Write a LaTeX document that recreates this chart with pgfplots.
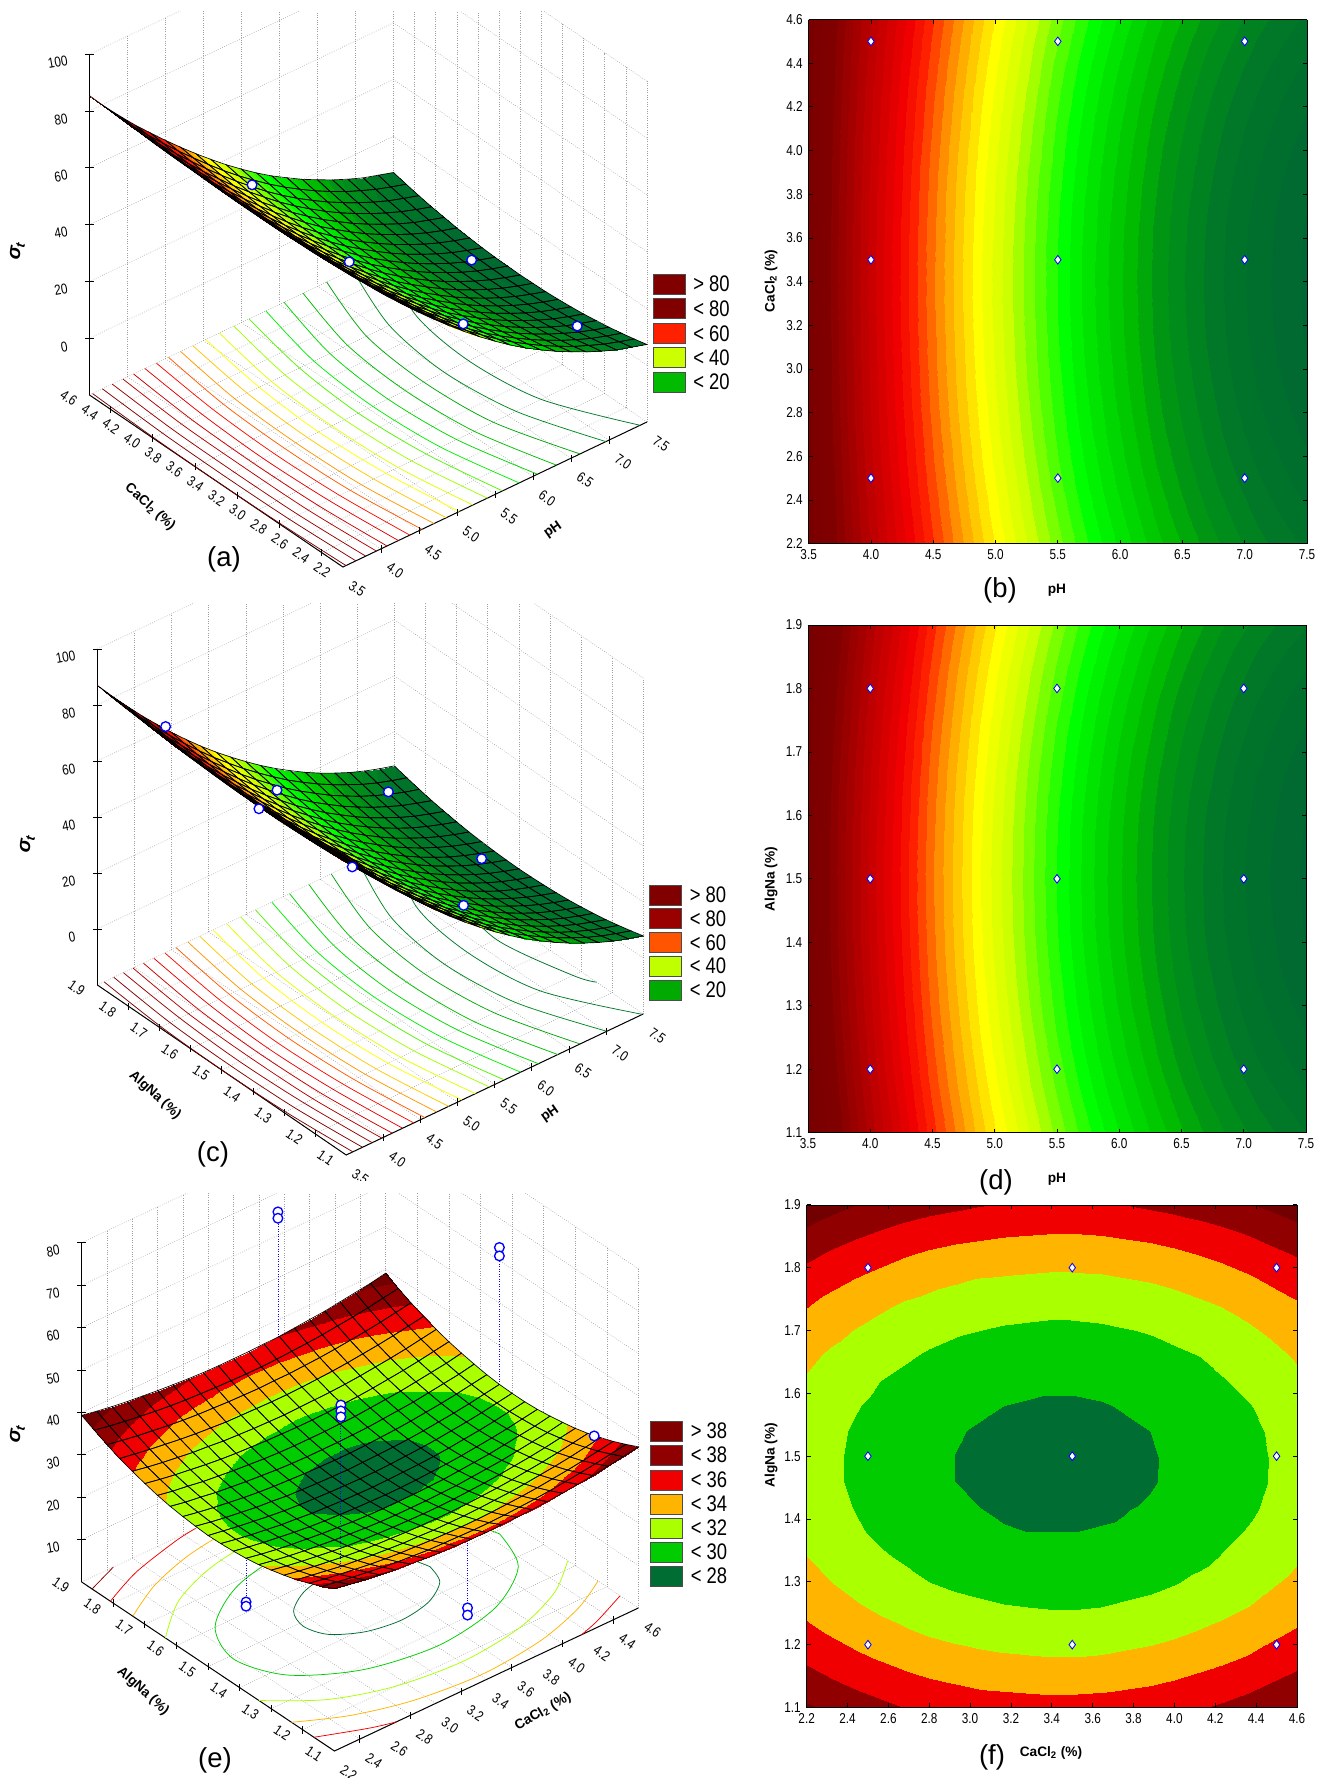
\documentclass[border=0pt]{standalone}
\usepackage{fontspec}
\usepackage{pgfplots}
\usepackage{pgfplotstable}
\pgfplotsset{compat=1.18}
\setmainfont{Liberation Sans}
\newfontfamily\nar{Liberation Sans}[FakeStretch=0.82]
\newcommand{\tk}{\nar\fontsize{8.6}{9}\selectfont}
\newcommand{\lgd}{\nar\fontsize{13.5}{14}\selectfont}
\newcommand{\pnl}{\fontsize{16.5}{18}\selectfont}
\newcommand{\alb}{\bfseries\fontsize{8.2}{9}\selectfont}
\newcommand{\sigt}{\bfseries\itshape\fontsize{12}{13}\selectfont σ\textsubscript{t}}
\definecolor{c84}{RGB}{124,0,0}\definecolor{c80}{RGB}{128,0,0}\definecolor{c76}{RGB}{152,0,0}
\definecolor{c72}{RGB}{178,0,0}\definecolor{c68}{RGB}{202,0,0}\definecolor{c64}{RGB}{228,0,0}
\definecolor{c60}{RGB}{248,16,0}\definecolor{c56}{RGB}{255,90,0}\definecolor{c52}{RGB}{255,150,0}
\definecolor{c48}{RGB}{255,200,0}\definecolor{c44}{RGB}{255,255,0}\definecolor{c40}{RGB}{225,255,0}
\definecolor{c36}{RGB}{160,255,0}\definecolor{c32}{RGB}{80,245,0}\definecolor{c28}{RGB}{0,240,0}
\definecolor{c24}{RGB}{0,215,0}\definecolor{c20}{RGB}{0,190,0}\definecolor{c16}{RGB}{0,165,10}
\definecolor{c12}{RGB}{0,135,30}\definecolor{c8}{RGB}{0,120,40}\definecolor{c4}{RGB}{0,110,45}
\definecolor{e28}{RGB}{0,110,51}\definecolor{e30}{RGB}{0,204,0}\definecolor{e32}{RGB}{170,255,0}
\definecolor{e34}{RGB}{255,180,0}\definecolor{e36}{RGB}{240,0,0}\definecolor{e38}{RGB}{144,0,0}
\pgfplotsset{
 colormap={baseA}{rgb255(0pt)=(0,102,51) rgb255(8pt)=(0,120,40) rgb255(14pt)=(0,150,20) rgb255(18pt)=(0,187,0) rgb255(22pt)=(0,215,0) rgb255(28pt)=(0,255,0) rgb255(38pt)=(204,255,0) rgb255(44pt)=(255,255,0) rgb255(51pt)=(255,160,0) rgb255(58pt)=(255,32,0) rgb255(62pt)=(240,0,0) rgb255(70pt)=(190,0,0) rgb255(80pt)=(128,0,0) rgb255(88pt)=(120,0,0)},
 colormap={bandA}{samples of colormap=(45 of baseA)},
 colormap={bandE}{rgb255(0pt)=(0,110,51) rgb255(1pt)=(0,204,0) rgb255(2pt)=(170,255,0) rgb255(3pt)=(255,180,0) rgb255(4pt)=(240,0,0) rgb255(5pt)=(144,0,0) rgb255(6pt)=(115,0,0) rgb255(7pt)=(115,0,0)},
 wall3d/.style={clip=false,grid=major,grid style={gray!75,densely dotted,line width=.35pt},axis line style={draw=none},
   tick style={draw=none},major tick length=0pt,
   tick label style={font=\tk},
   x tick label style={rotate=-35,xshift=5pt,yshift=-1pt,/pgf/number format/.cd,fixed,fixed zerofill,precision=1,assume math mode=true},
   y tick label style={rotate=-35,xshift=-9.5pt,yshift=-2pt,/pgf/number format/.cd,fixed,fixed zerofill,precision=1,assume math mode=true},
   z tick label style={rotate=10,xshift=-9.5pt,yshift=-4pt,/pgf/number format/.cd,fixed,precision=0,assume math mode=true},
   anchor=south west},
 flat2d/.style={scale only axis,view={0}{90},anchor=south west,axis on top,enlargelimits=false,
   tick style={black,line width=.5pt},major tick length=2.5pt,tick align=inside,
   tick label style={font=\tk,/pgf/number format/.cd,fixed,fixed zerofill,precision=1,assume math mode=true}},
 bandmap/.style={colormap name=bandA,colormap access=piecewise constant,point meta min=0,point meta max=88},
 bandmapE/.style={colormap name=bandE,colormap access=piecewise constant,point meta min=26,point meta max=40},
 design/.style={only marks,mark=diamond*,mark size=2.6pt,mark options={draw=blue,fill=white,line width=.5pt}},
 pts/.style={only marks,mark=*,mark size=2.9pt,mark options={draw=blue,fill=white,line width=.8pt}},
 drop/.style={blue,densely dotted,line width=.5pt},
 ctr/.style={smooth,no marks,line width=.45pt},
 wire/.style={mesh,draw=black,line width=.4pt,mesh/cols=21},
 tkv/.style={only marks,mark=|,mark size=2.2pt,black,mark options={line width=.45pt}},
 tkh/.style={only marks,mark=-,mark size=2.5pt,black,mark options={line width=.45pt}},
 /pgfplots/table/idx/.style={x index=0,y index=0,z index=0,z expr=\thisrowno{0}},
 /pgfplots/table/gA/.style={idx,x expr={3.5+0.2*mod(\coordindex,21)},y expr={2.2+0.12*floor((\coordindex+0.5)/21)}},
 /pgfplots/table/gC/.style={idx,x expr={3.5+0.2*mod(\coordindex,21)},y expr={1.1+0.04*floor((\coordindex+0.5)/21)}},
 /pgfplots/table/gE/.style={idx,x expr={2.2+0.12*mod(\coordindex,21)},y expr={1.1+0.04*floor((\coordindex+0.5)/21)}}
}
\newcommand{\ctrA}[4]{\addplot3[ctr,#1] coordinates {(#2,2.2,-20)(#3,2.8,-20)(#4,3.4,-20)(#3,4,-20)(#2,4.6,-20)};}
\newcommand{\ctrC}[4]{\addplot3[ctr,#1] coordinates {(#2,1.1,-20)(#3,1.3,-20)(#4,1.5,-20)(#3,1.7,-20)(#2,1.9,-20)};}
\pgfplotstableread[row sep=\\]{z\\
85.4\\79.0\\73.1\\67.4\\62.1\\56.9\\51.9\\47.1\\42.5\\38.1\\34.0\\30.1\\26.5\\23.3\\20.2\\17.5\\14.9\\12.6\\10.5\\8.9\\7.3\\
85.2\\78.7\\72.7\\66.9\\61.5\\56.2\\51.2\\46.3\\41.6\\37.2\\33.1\\29.2\\25.6\\22.3\\19.2\\16.4\\13.8\\11.6\\9.5\\7.8\\6.2\\
84.9\\78.4\\72.3\\66.5\\60.9\\55.6\\50.5\\45.6\\40.9\\36.5\\32.2\\28.3\\24.7\\21.4\\18.3\\15.5\\12.9\\10.6\\8.5\\6.8\\5.2\\
84.7\\78.2\\72.0\\66.0\\60.4\\55.0\\49.9\\44.9\\40.2\\35.8\\31.5\\27.6\\24.0\\20.6\\17.5\\14.7\\12.1\\9.8\\7.7\\5.9\\4.3\\
84.5\\77.9\\71.7\\65.7\\60.0\\54.6\\49.4\\44.4\\39.6\\35.2\\30.9\\27.0\\23.3\\20.0\\16.8\\14.0\\11.4\\9.0\\6.9\\5.2\\3.6\\
84.4\\77.7\\71.4\\65.4\\59.6\\54.1\\48.9\\43.9\\39.1\\34.7\\30.4\\26.4\\22.8\\19.4\\16.2\\13.4\\10.8\\8.4\\6.3\\4.5\\2.9\\
84.2\\77.6\\71.3\\65.1\\59.3\\53.8\\48.5\\43.5\\38.7\\34.2\\30.0\\26.0\\22.3\\18.9\\15.8\\12.9\\10.3\\7.9\\5.8\\4.0\\2.4\\
84.1\\77.5\\71.1\\65.0\\59.1\\53.5\\48.3\\43.2\\38.4\\33.9\\29.6\\25.6\\22.0\\18.6\\15.4\\12.5\\9.9\\7.5\\5.4\\3.6\\2.0\\
84.1\\77.4\\71.0\\64.8\\58.9\\53.4\\48.1\\43.0\\38.2\\33.7\\29.4\\25.4\\21.7\\18.3\\15.1\\12.2\\9.6\\7.2\\5.1\\3.3\\1.7\\
84.0\\77.3\\70.9\\64.7\\58.8\\53.2\\47.9\\42.8\\38.0\\33.5\\29.2\\25.2\\21.6\\18.2\\15.0\\12.1\\9.5\\7.1\\5.0\\3.2\\1.6\\
84.0\\77.3\\70.9\\64.7\\58.8\\53.2\\47.9\\42.8\\38.0\\33.5\\29.2\\25.2\\21.5\\18.1\\14.9\\12.0\\9.4\\7.0\\4.9\\3.1\\1.5\\
84.0\\77.3\\70.9\\64.7\\58.8\\53.2\\47.9\\42.8\\38.0\\33.5\\29.2\\25.2\\21.6\\18.2\\15.0\\12.1\\9.5\\7.1\\5.0\\3.2\\1.6\\
84.1\\77.4\\71.0\\64.8\\58.9\\53.4\\48.1\\43.0\\38.2\\33.7\\29.4\\25.4\\21.7\\18.3\\15.1\\12.2\\9.6\\7.2\\5.1\\3.3\\1.7\\
84.1\\77.5\\71.1\\65.0\\59.1\\53.5\\48.3\\43.2\\38.4\\33.9\\29.6\\25.6\\22.0\\18.6\\15.4\\12.5\\9.9\\7.5\\5.4\\3.6\\2.0\\
84.2\\77.6\\71.3\\65.1\\59.3\\53.8\\48.5\\43.5\\38.7\\34.2\\30.0\\26.0\\22.3\\18.9\\15.8\\12.9\\10.3\\7.9\\5.8\\4.0\\2.4\\
84.4\\77.7\\71.4\\65.4\\59.6\\54.1\\48.9\\43.9\\39.1\\34.7\\30.4\\26.4\\22.8\\19.4\\16.2\\13.4\\10.8\\8.4\\6.3\\4.5\\2.9\\
84.5\\77.9\\71.7\\65.7\\60.0\\54.6\\49.4\\44.4\\39.6\\35.2\\30.9\\27.0\\23.3\\20.0\\16.8\\14.0\\11.4\\9.0\\6.9\\5.2\\3.6\\
84.7\\78.2\\72.0\\66.0\\60.4\\55.0\\49.9\\44.9\\40.2\\35.8\\31.5\\27.6\\24.0\\20.6\\17.5\\14.7\\12.1\\9.8\\7.7\\5.9\\4.3\\
84.9\\78.4\\72.3\\66.5\\60.9\\55.6\\50.5\\45.6\\40.9\\36.5\\32.2\\28.3\\24.7\\21.4\\18.3\\15.5\\12.9\\10.6\\8.5\\6.8\\5.2\\
85.2\\78.7\\72.7\\66.9\\61.5\\56.2\\51.2\\46.3\\41.6\\37.2\\33.1\\29.2\\25.6\\22.3\\19.2\\16.4\\13.8\\11.6\\9.5\\7.8\\6.2\\
85.4\\79.0\\73.1\\67.4\\62.1\\56.9\\51.9\\47.1\\42.5\\38.1\\34.0\\30.1\\26.5\\23.3\\20.2\\17.5\\14.9\\12.6\\10.5\\8.9\\7.3\\
}\tabA
\pgfplotstableread[row sep=\\]{z\\
87.0\\80.6\\74.5\\68.6\\63.0\\57.6\\52.5\\47.6\\43.0\\38.7\\34.6\\30.7\\27.1\\23.8\\20.7\\17.9\\15.4\\13.1\\11.1\\9.4\\7.9\\
86.4\\80.0\\73.8\\67.9\\62.2\\56.8\\51.6\\46.7\\42.1\\37.7\\33.6\\29.7\\26.0\\22.7\\19.6\\16.8\\14.3\\11.9\\9.9\\8.2\\6.7\\
85.9\\79.4\\73.2\\67.2\\61.5\\56.0\\50.8\\45.9\\41.2\\36.8\\32.7\\28.7\\25.1\\21.8\\18.6\\15.8\\13.2\\10.9\\8.9\\7.1\\5.6\\
85.5\\78.9\\72.7\\66.6\\60.9\\55.4\\50.2\\45.2\\40.5\\36.1\\31.9\\27.9\\24.2\\20.9\\17.7\\14.9\\12.3\\10.0\\7.9\\6.2\\4.6\\
85.1\\78.5\\72.2\\66.1\\60.3\\54.8\\49.6\\44.5\\39.8\\35.4\\31.1\\27.2\\23.5\\20.2\\17.0\\14.1\\11.6\\9.2\\7.1\\5.4\\3.8\\
84.8\\78.1\\71.8\\65.7\\59.9\\54.3\\49.1\\44.0\\39.3\\34.8\\30.6\\26.6\\22.9\\19.5\\16.4\\13.5\\10.9\\8.5\\6.5\\4.7\\3.1\\
84.5\\77.8\\71.5\\65.3\\59.5\\53.9\\48.6\\43.6\\38.8\\34.3\\30.1\\26.1\\22.4\\19.0\\15.8\\12.9\\10.4\\8.0\\5.9\\4.1\\2.5\\
84.3\\77.6\\71.2\\65.1\\59.2\\53.6\\48.3\\43.2\\38.5\\34.0\\29.7\\25.7\\22.0\\18.6\\15.4\\12.5\\9.9\\7.6\\5.5\\3.7\\2.1\\
84.1\\77.4\\71.0\\64.9\\59.0\\53.4\\48.1\\43.0\\38.2\\33.7\\29.4\\25.4\\21.7\\18.3\\15.1\\12.2\\9.6\\7.2\\5.2\\3.4\\1.8\\
84.0\\77.3\\70.9\\64.7\\58.8\\53.2\\48.0\\42.8\\38.1\\33.6\\29.3\\25.3\\21.6\\18.2\\15.0\\12.1\\9.5\\7.1\\5.0\\3.2\\1.6\\
84.0\\77.3\\70.9\\64.7\\58.8\\53.2\\47.9\\42.8\\38.0\\33.5\\29.2\\25.2\\21.5\\18.1\\14.9\\12.0\\9.4\\7.0\\4.9\\3.1\\1.5\\
84.0\\77.3\\70.9\\64.7\\58.8\\53.2\\48.0\\42.8\\38.1\\33.6\\29.3\\25.3\\21.6\\18.2\\15.0\\12.1\\9.5\\7.1\\5.0\\3.2\\1.6\\
84.1\\77.4\\71.0\\64.9\\59.0\\53.4\\48.1\\43.0\\38.2\\33.7\\29.4\\25.4\\21.7\\18.3\\15.1\\12.2\\9.6\\7.2\\5.2\\3.4\\1.8\\
84.3\\77.6\\71.2\\65.1\\59.2\\53.6\\48.3\\43.2\\38.5\\34.0\\29.7\\25.7\\22.0\\18.6\\15.4\\12.5\\9.9\\7.6\\5.5\\3.7\\2.1\\
84.5\\77.8\\71.5\\65.3\\59.5\\53.9\\48.6\\43.6\\38.8\\34.3\\30.1\\26.1\\22.4\\19.0\\15.8\\12.9\\10.4\\8.0\\5.9\\4.1\\2.5\\
84.8\\78.1\\71.8\\65.7\\59.9\\54.3\\49.1\\44.0\\39.3\\34.8\\30.6\\26.6\\22.9\\19.5\\16.4\\13.5\\10.9\\8.5\\6.5\\4.7\\3.1\\
85.1\\78.5\\72.2\\66.1\\60.3\\54.8\\49.6\\44.5\\39.8\\35.4\\31.1\\27.2\\23.5\\20.2\\17.0\\14.1\\11.6\\9.2\\7.1\\5.4\\3.8\\
85.5\\78.9\\72.7\\66.6\\60.9\\55.4\\50.2\\45.2\\40.5\\36.1\\31.9\\27.9\\24.2\\20.9\\17.7\\14.9\\12.3\\10.0\\7.9\\6.2\\4.6\\
85.9\\79.4\\73.2\\67.2\\61.5\\56.0\\50.8\\45.9\\41.2\\36.8\\32.7\\28.7\\25.1\\21.8\\18.6\\15.8\\13.2\\10.9\\8.9\\7.1\\5.6\\
86.4\\80.0\\73.8\\67.9\\62.2\\56.8\\51.6\\46.7\\42.1\\37.7\\33.6\\29.7\\26.0\\22.7\\19.6\\16.8\\14.3\\11.9\\9.9\\8.2\\6.7\\
87.0\\80.6\\74.5\\68.6\\63.0\\57.6\\52.5\\47.6\\43.0\\38.7\\34.6\\30.7\\27.1\\23.8\\20.7\\17.9\\15.4\\13.1\\11.1\\9.4\\7.9\\
}\tabC
\pgfplotstableread[row sep=\\]{z\\
38.3\\37.6\\37.0\\36.5\\36.0\\35.7\\35.3\\35.1\\34.9\\34.8\\34.7\\34.8\\34.9\\35.0\\35.2\\35.5\\35.9\\36.3\\36.8\\37.4\\38.0\\
36.8\\36.2\\35.6\\35.1\\34.6\\34.2\\33.9\\33.6\\33.5\\33.4\\33.3\\33.3\\33.4\\33.6\\33.8\\34.1\\34.5\\34.9\\35.4\\36.0\\36.6\\
35.6\\34.9\\34.3\\33.8\\33.3\\32.9\\32.6\\32.4\\32.2\\32.1\\32.0\\32.0\\32.1\\32.3\\32.5\\32.8\\33.2\\33.6\\34.1\\34.7\\35.3\\
34.4\\33.8\\33.2\\32.6\\32.2\\31.8\\31.5\\31.2\\31.1\\30.9\\30.9\\30.9\\31.0\\31.2\\31.4\\31.7\\32.1\\32.5\\33.0\\33.6\\34.2\\
33.5\\32.8\\32.2\\31.7\\31.2\\30.8\\30.5\\30.3\\30.1\\30.0\\29.9\\29.9\\30.0\\30.2\\30.4\\30.7\\31.1\\31.5\\32.0\\32.6\\33.2\\
32.7\\32.0\\31.4\\30.9\\30.4\\30.0\\29.7\\29.5\\29.3\\29.2\\29.1\\29.1\\29.2\\29.4\\29.6\\29.9\\30.3\\30.7\\31.2\\31.8\\32.4\\
32.0\\31.3\\30.7\\30.2\\29.8\\29.4\\29.1\\28.8\\28.6\\28.5\\28.5\\28.5\\28.6\\28.7\\29.0\\29.3\\29.6\\30.1\\30.6\\31.1\\31.8\\
31.5\\30.8\\30.2\\29.7\\29.3\\28.9\\28.6\\28.3\\28.1\\28.0\\28.0\\28.0\\28.1\\28.2\\28.5\\28.8\\29.1\\29.6\\30.1\\30.6\\31.3\\
31.2\\30.5\\29.9\\29.4\\28.9\\28.5\\28.2\\28.0\\27.8\\27.7\\27.6\\27.6\\27.7\\27.9\\28.1\\28.4\\28.8\\29.2\\29.7\\30.3\\30.9\\
31.0\\30.3\\29.7\\29.2\\28.7\\28.4\\28.0\\27.8\\27.6\\27.5\\27.4\\27.5\\27.6\\27.7\\27.9\\28.2\\28.6\\29.0\\29.5\\30.1\\30.7\\
30.9\\30.3\\29.7\\29.2\\28.7\\28.3\\28.0\\27.8\\27.6\\27.5\\27.4\\27.4\\27.5\\27.7\\27.9\\28.2\\28.6\\29.0\\29.5\\30.1\\30.7\\
31.1\\30.4\\29.8\\29.3\\28.8\\28.5\\28.1\\27.9\\27.7\\27.6\\27.5\\27.6\\27.7\\27.8\\28.0\\28.3\\28.7\\29.1\\29.6\\30.2\\30.8\\
31.4\\30.7\\30.1\\29.6\\29.1\\28.7\\28.4\\28.2\\28.0\\27.9\\27.8\\27.8\\27.9\\28.1\\28.3\\28.6\\29.0\\29.4\\29.9\\30.5\\31.1\\
31.8\\31.1\\30.6\\30.0\\29.6\\29.2\\28.9\\28.6\\28.4\\28.3\\28.3\\28.3\\28.4\\28.5\\28.8\\29.1\\29.4\\29.9\\30.4\\30.9\\31.6\\
32.4\\31.7\\31.2\\30.6\\30.2\\29.8\\29.5\\29.2\\29.0\\28.9\\28.9\\28.9\\29.0\\29.1\\29.4\\29.7\\30.0\\30.5\\31.0\\31.5\\32.2\\
33.2\\32.5\\31.9\\31.4\\30.9\\30.5\\30.2\\30.0\\29.8\\29.7\\29.6\\29.6\\29.7\\29.9\\30.1\\30.4\\30.8\\31.2\\31.7\\32.3\\32.9\\
34.1\\33.4\\32.8\\32.3\\31.8\\31.5\\31.1\\30.9\\30.7\\30.6\\30.5\\30.6\\30.7\\30.8\\31.0\\31.3\\31.7\\32.1\\32.6\\33.2\\33.8\\
35.1\\34.5\\33.9\\33.4\\32.9\\32.5\\32.2\\31.9\\31.8\\31.7\\31.6\\31.6\\31.7\\31.9\\32.1\\32.4\\32.8\\33.2\\33.7\\34.3\\34.9\\
36.4\\35.7\\35.1\\34.6\\34.1\\33.7\\33.4\\33.2\\33.0\\32.9\\32.8\\32.9\\32.9\\33.1\\33.3\\33.6\\34.0\\34.4\\34.9\\35.5\\36.1\\
37.8\\37.1\\36.5\\36.0\\35.5\\35.1\\34.8\\34.6\\34.4\\34.3\\34.2\\34.2\\34.3\\34.5\\34.7\\35.0\\35.4\\35.8\\36.3\\36.9\\37.5\\
39.3\\38.6\\38.0\\37.5\\37.1\\36.7\\36.4\\36.1\\35.9\\35.8\\35.8\\35.8\\35.9\\36.0\\36.3\\36.6\\36.9\\37.4\\37.9\\38.4\\39.1\\
}\tabE
\newcommand{\legrow}[4]{\fill[fill=#2,draw=black!70,line width=.5pt] (#4,#1) rectangle ++(32,20); \node[anchor=west,inner sep=0pt] at ({#4+40},{#1+10}) {\lgd #3};}
\begin{document}
\begin{tikzpicture}[x=0.6pt,y=-0.6pt]
\path[use as bounding box] (0,0) rectangle (1331,1778);
% ---------- (a)
\begin{scope}
\clip (0,11) rectangle (800,595);
\begin{axis}[wall3d,at={(53.7pt,-340.2pt)},
 x={(45.6pt,21.75pt)},y={(-63.36pt,43pt)},z={(0pt,1.704pt)},
 xmin=3.5,xmax=7.5,ymin=2.2,ymax=4.6,zmin=-20,zmax=100,
 xtick={3.5,4,4.5,5,5.5,6,6.5,7,7.5},ytick={2.2,2.4,2.6,2.8,3.0,3.2,3.4,3.6,3.8,4.0,4.2,4.4,4.6},ztick={0,20,40,60,80,100}]
\addplot3[black,line width=.6pt] coordinates {(3.5,4.6,-20)(3.5,4.6,100)};
\addplot3[black,line width=.6pt] coordinates {(3.5,4.6,-20)(3.5,2.2,-20)(7.5,2.2,-20)};
\addplot3[tkv] coordinates {(4,2.2,-20)(4.5,2.2,-20)(5,2.2,-20)(5.5,2.2,-20)(6,2.2,-20)(6.5,2.2,-20)(7,2.2,-20)(3.5,2.4,-20)(3.5,2.8,-20)(3.5,3.2,-20)(3.5,3.6,-20)(3.5,4,-20)(3.5,4.4,-20)};
\addplot3[tkh] coordinates {(3.5,4.6,0)(3.5,4.6,20)(3.5,4.6,40)(3.5,4.6,60)(3.5,4.6,80)(3.5,4.6,100)};
\ctrA{c84}{3.54}{3.51}{3.50}\ctrA{c80}{3.67}{3.63}{3.62}\ctrA{c76}{3.80}{3.75}{3.74}\ctrA{c72}{3.94}{3.88}{3.87}
\ctrA{c68}{4.08}{4.01}{3.99}\ctrA{c64}{4.23}{4.15}{4.12}\ctrA{c60}{4.38}{4.29}{4.26}\ctrA{c56}{4.54}{4.43}{4.40}
\ctrA{c52}{4.70}{4.58}{4.55}\ctrA{c48}{4.86}{4.74}{4.70}\ctrA{c44}{5.03}{4.90}{4.85}\ctrA{c40}{5.21}{5.06}{5.02}
\ctrA{c36}{5.40}{5.24}{5.19}\ctrA{c32}{5.60}{5.43}{5.37}\ctrA{c28}{5.82}{5.62}{5.56}\ctrA{c24}{6.06}{5.83}{5.76}
\ctrA{c20}{6.31}{6.06}{5.99}\ctrA{c16}{6.62}{6.31}{6.23}\ctrA{c12}{6.96}{6.61}{6.50}\ctrA{c8}{7.41}{6.94}{6.82}
\addplot3[surf,shader=interp,bandmap,mesh/cols=21] table[gA]{\tabA};
\addplot3[wire] table[gA]{\tabA};
\addplot3[pts] coordinates {(5.5,4.5,31)(4,2.5,73.5)(7,3.5,10.6)(5.5,2.5,32.5)(7,2.5,12.6)};
\end{axis}
\end{scope}
% ---------- (c)
\begin{scope}
\clip (0,603) rectangle (800,1180);
\begin{axis}[wall3d,at={(58.44pt,-693pt)},
 x={(44.55pt,21.15pt)},y={(-186.6pt,127.5pt)},z={(0pt,1.68pt)},
 xmin=3.5,xmax=7.5,ymin=1.1,ymax=1.9,zmin=-20,zmax=100,
 xtick={3.5,4,4.5,5,5.5,6,6.5,7,7.5},ytick={1.1,1.2,1.3,1.4,1.5,1.6,1.7,1.8,1.9},ztick={0,20,40,60,80,100}]
\addplot3[black,line width=.6pt] coordinates {(3.5,1.9,-20)(3.5,1.9,100)};
\addplot3[black,line width=.6pt] coordinates {(3.5,1.9,-20)(3.5,1.1,-20)(7.5,1.1,-20)};
\addplot3[tkv] coordinates {(4,1.1,-20)(4.5,1.1,-20)(5,1.1,-20)(5.5,1.1,-20)(6,1.1,-20)(6.5,1.1,-20)(7,1.1,-20)(3.5,1.2,-20)(3.5,1.3,-20)(3.5,1.4,-20)(3.5,1.5,-20)(3.5,1.6,-20)(3.5,1.7,-20)(3.5,1.8,-20)};
\addplot3[tkh] coordinates {(3.5,1.9,0)(3.5,1.9,20)(3.5,1.9,40)(3.5,1.9,60)(3.5,1.9,80)(3.5,1.9,100)};
\ctrC{c84}{3.59}{3.52}{3.50}\ctrC{c80}{3.72}{3.64}{3.62}\ctrC{c76}{3.85}{3.77}{3.74}\ctrC{c72}{3.98}{3.89}{3.87}
\ctrC{c68}{4.12}{4.02}{3.99}\ctrC{c64}{4.26}{4.16}{4.12}\ctrC{c60}{4.41}{4.30}{4.26}\ctrC{c56}{4.56}{4.44}{4.40}
\ctrC{c52}{4.72}{4.59}{4.55}\ctrC{c48}{4.88}{4.74}{4.70}\ctrC{c44}{5.06}{4.90}{4.85}\ctrC{c40}{5.24}{5.07}{5.02}
\ctrC{c36}{5.43}{5.25}{5.19}\ctrC{c32}{5.63}{5.43}{5.37}\ctrC{c28}{5.85}{5.63}{5.56}\ctrC{c24}{6.09}{5.84}{5.76}
\ctrC{c20}{6.35}{6.07}{5.99}\ctrC{c16}{6.65}{6.33}{6.23}\ctrC{c12}{7.01}{6.62}{6.50}\ctrC{c8}{7.49}{6.95}{6.82}
\addplot3[ctr,c4] coordinates {(7.5,1.25,-20)(7.39,1.3,-20)(7.2,1.5,-20)(7.39,1.7,-20)(7.5,1.75,-20)};
\addplot3[surf,shader=interp,bandmap,mesh/cols=21] table[gC]{\tabC};
\addplot3[wire] table[gC]{\tabC};
\addplot3[pts] coordinates {(4,1.8,73.6)(4,1.5,67)(5.5,1.8,32)(7,1.8,12.5)(7,1.5,11.4)(5.5,1.2,36.4)(4,1.2,69)};
\end{axis}
\end{scope}
% ---------- (e)
\begin{scope}
\clip (0,1193) rectangle (800,1778);
\begin{axis}[wall3d,at={(49pt,-1050.6pt)},
 x={(76pt,35.76pt)},y={(-189.6pt,126.75pt)},z={(0pt,2.544pt)},
 xmin=2.2,xmax=4.6,ymin=1.1,ymax=1.9,zmin=0,zmax=80,
 xtick={2.2,2.4,2.6,2.8,3.0,3.2,3.4,3.6,3.8,4.0,4.2,4.4,4.6},ytick={1.1,1.2,1.3,1.4,1.5,1.6,1.7,1.8,1.9},ztick={10,20,30,40,50,60,70,80}]
\addplot3[black,line width=.6pt] coordinates {(2.2,1.9,0)(2.2,1.9,80)};
\addplot3[black,line width=.6pt] coordinates {(2.2,1.9,0)(2.2,1.1,0)(4.6,1.1,0)};
\addplot3[tkv] coordinates {(2.4,1.1,0)(2.8,1.1,0)(3.2,1.1,0)(3.6,1.1,0)(4,1.1,0)(4.4,1.1,0)(2.2,1.2,0)(2.2,1.3,0)(2.2,1.4,0)(2.2,1.5,0)(2.2,1.6,0)(2.2,1.7,0)(2.2,1.8,0)};
\addplot3[tkh] coordinates {(2.2,1.9,10)(2.2,1.9,20)(2.2,1.9,30)(2.2,1.9,40)(2.2,1.9,50)(2.2,1.9,60)(2.2,1.9,70)(2.2,1.9,80)};
\addplot3[ctr,e28] coordinates {(3.92,1.487,0)(3.86,1.542,0)(3.67,1.583,0)(3.42,1.598,0)(3.17,1.583,0)(2.98,1.542,0)(2.92,1.487,0)(2.98,1.432,0)(3.17,1.391,0)(3.42,1.376,0)(3.67,1.391,0)(3.86,1.432,0)(3.92,1.487,0)};
\addplot3[ctr,e30] coordinates {(4.47,1.487,0)(4.33,1.602,0)(3.94,1.686,0)(3.42,1.717,0)(2.90,1.686,0)(2.51,1.602,0)(2.37,1.487,0)(2.51,1.372,0)(2.90,1.288,0)(3.42,1.257,0)(3.94,1.288,0)(4.33,1.372,0)(4.47,1.487,0)};
\addplot3[ctr,e32] coordinates {(2.2,1.635,0)(2.52,1.721,0)(2.92,1.773,0)(3.42,1.793,0)(3.92,1.773,0)(4.32,1.721,0)(4.6,1.65,0)};
\addplot3[ctr,e32] coordinates {(2.2,1.339,0)(2.52,1.253,0)(2.92,1.201,0)(3.42,1.181,0)(3.92,1.201,0)(4.32,1.253,0)(4.6,1.324,0)};
\addplot3[ctr,e34] coordinates {(2.2,1.738,0)(2.52,1.796,0)(2.92,1.837,0)(3.42,1.854,0)(3.92,1.837,0)(4.32,1.796,0)(4.6,1.746,0)};
\addplot3[ctr,e34] coordinates {(2.2,1.236,0)(2.52,1.178,0)(2.92,1.137,0)(3.42,1.12,0)(3.92,1.137,0)(4.32,1.178,0)(4.6,1.228,0)};
\addplot3[ctr,e36] coordinates {(2.2,1.809,0)(2.52,1.856,0)(2.92,1.891,0)(3.1,1.9,0)};
\addplot3[ctr,e36] coordinates {(3.74,1.9,0)(3.92,1.891,0)(4.32,1.856,0)(4.6,1.816,0)};
\addplot3[ctr,e36] coordinates {(2.2,1.165,0)(2.52,1.118,0)(2.69,1.1,0)};
\addplot3[ctr,e36] coordinates {(4.15,1.1,0)(4.32,1.118,0)(4.6,1.158,0)};
\addplot3[ctr,e38] coordinates {(2.2,1.867,0)(2.45,1.9,0)};
\addplot3[ctr,e38] coordinates {(4.39,1.9,0)(4.6,1.873,0)};
\addplot3[drop] coordinates {(3.5,1.8,73)(3.5,1.8,31)};
\addplot3[drop] coordinates {(4.5,1.5,65.6)(4.5,1.5,30.2)};
\addplot3[drop] coordinates {(2.5,1.5,10.6)(2.5,1.5,29.4)};
\addplot3[drop] coordinates {(3.5,1.2,9.7)(3.5,1.2,31.5)};
\addplot3[pts] coordinates {(3.5,1.8,74)(3.5,1.8,72.5)(4.5,1.5,66.5)(4.5,1.5,64.5)(2.5,1.5,11)(2.5,1.5,10)(3.5,1.2,10.5)(3.5,1.2,8.8)};
\addplot3[surf,shader=interp,bandmapE,mesh/cols=21] table[gE]{\tabE};
\addplot3[wire] table[gE]{\tabE};
\addplot3[drop] coordinates {(2.5,1.2,71)(2.5,1.2,33.4)};
\addplot3[pts] coordinates {(2.5,1.2,72.4)(2.5,1.2,71)(2.5,1.2,69.6)(4.5,1.2,37)};
\end{axis}
\end{scope}
% ---------- (b)
\begin{axis}[flat2d,at={(485.2pt,-326.2pt)},width=299pt,height=314.5pt,
 xmin=3.5,xmax=7.5,ymin=2.2,ymax=4.6,xtick={3.5,4,4.5,5,5.5,6,6.5,7,7.5},ytick={2.2,2.4,2.6,2.8,3.0,3.2,3.4,3.6,3.8,4.0,4.2,4.4,4.6}]
\addplot3[surf,shader=interp,bandmap,mesh/cols=21] table[gA]{\tabA};
\addplot3[design] coordinates {(4,2.5,90)(4,3.5,90)(4,4.5,90)(5.5,2.5,90)(5.5,3.5,90)(5.5,4.5,90)(7,2.5,90)(7,3.5,90)(7,4.5,90)};
\end{axis}
% ---------- (d)
\begin{axis}[flat2d,at={(484.8pt,-679.6pt)},width=298.8pt,height=304.6pt,
 xmin=3.5,xmax=7.5,ymin=1.1,ymax=1.9,xtick={3.5,4,4.5,5,5.5,6,6.5,7,7.5},ytick={1.1,1.2,1.3,1.4,1.5,1.6,1.7,1.8,1.9}]
\addplot3[surf,shader=interp,bandmap,mesh/cols=21] table[gC]{\tabC};
\addplot3[design] coordinates {(4,1.2,90)(4,1.5,90)(4,1.8,90)(5.5,1.2,90)(5.5,1.5,90)(5.5,1.8,90)(7,1.2,90)(7,1.5,90)(7,1.8,90)};
\end{axis}
% ---------- (f)
\begin{axis}[flat2d,at={(484pt,-1024.5pt)},width=294.2pt,height=301.6pt,
 xmin=2.2,xmax=4.6,ymin=1.1,ymax=1.9,xtick={2.2,2.4,2.6,2.8,3.0,3.2,3.4,3.6,3.8,4.0,4.2,4.4,4.6},ytick={1.1,1.2,1.3,1.4,1.5,1.6,1.7,1.8,1.9}]
\addplot3[surf,shader=interp,bandmapE,mesh/cols=21] table[gE]{\tabE};
\addplot3[design] coordinates {(2.5,1.2,90)(2.5,1.5,90)(2.5,1.8,90)(3.5,1.2,90)(3.5,1.5,90)(3.5,1.8,90)(4.5,1.2,90)(4.5,1.5,90)(4.5,1.8,90)};
\end{axis}
% ---------- legends
\legrow{274}{c80}{> 80}{653}\legrow{298.5}{c80}{< 80}{653}
\legrow{323.4}{{rgb,255:red,255;green,32;blue,0}}{< 60}{653}\legrow{347.5}{{rgb,255:red,204;green,255;blue,0}}{< 40}{653}\legrow{372}{{rgb,255:red,0;green,187;blue,0}}{< 20}{653}
\legrow{885}{c80}{> 80}{649.5}\legrow{908.5}{{rgb,255:red,153;green,0;blue,0}}{< 80}{649.5}
\legrow{932.5}{{rgb,255:red,255;green,85;blue,0}}{< 60}{649.5}\legrow{956}{{rgb,255:red,192;green,255;blue,0}}{< 40}{649.5}\legrow{980}{{rgb,255:red,0;green,170;blue,0}}{< 20}{649.5}
\legrow{1421}{c80}{> 38}{650.5}\legrow{1445}{e38}{< 38}{650.5}\legrow{1470}{e36}{< 36}{650.5}
\legrow{1494}{e34}{< 34}{650.5}\legrow{1518}{e32}{< 32}{650.5}\legrow{1542}{e30}{< 30}{650.5}\legrow{1566}{e28}{< 28}{650.5}
% ---------- labels
\node at (224,559) {\pnl (a)};
\node at (1000,590) {\pnl (b)};
\node at (213,1154) {\pnl (c)};
\node at (996,1182) {\pnl (d)};
\node at (215,1760) {\pnl (e)};
\node at (992,1757) {\pnl (f)};
\node[rotate=-42] at (150,507) {\alb CaCl\textsubscript{2} (\%)};
\node[rotate=35] at (553,530) {\alb pH};
\node[rotate=-42] at (155,1095) {\alb AlgNa (\%)};
\node[rotate=35] at (550,1114) {\alb pH};
\node[rotate=-42] at (143,1691) {\alb AlgNa (\%)};
\node[rotate=30] at (543,1712) {\alb CaCl\textsubscript{2} (\%)};
\node[rotate=80] at (17,251) {\sigt};
\node[rotate=80] at (27,844) {\sigt};
\node[rotate=80] at (17,1434) {\sigt};
\node at (1057,590) {\alb pH};
\node at (1057,1179) {\alb pH};
\node at (1051,1753) {\alb CaCl\textsubscript{2} (\%)};
\node[rotate=90] at (771,281) {\alb CaCl\textsubscript{2} (\%)};
\node[rotate=90] at (771,879) {\alb AlgNa (\%)};
\node[rotate=90] at (771,1455) {\alb AlgNa (\%)};
\end{tikzpicture}
\end{document}
